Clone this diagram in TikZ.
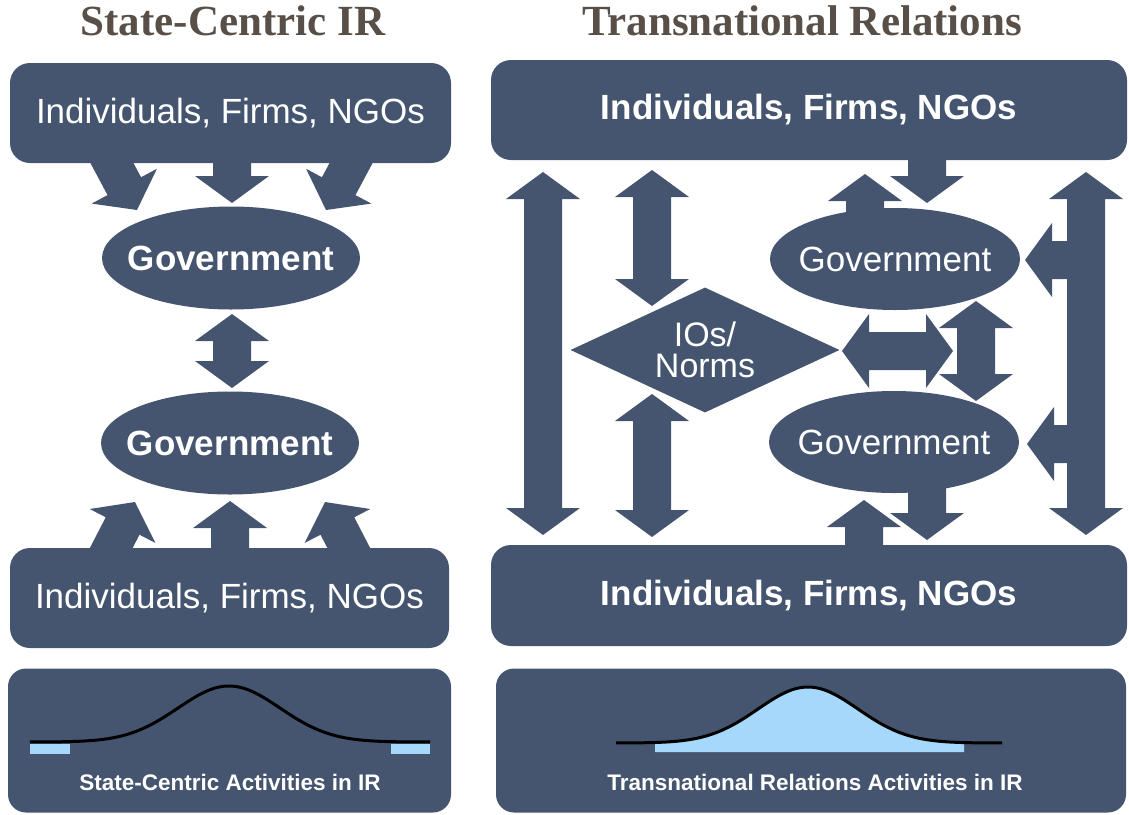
\documentclass[tikz,border=0pt]{standalone}
\usepackage{fontspec}
\setsansfont{Liberation Sans}
\newfontfamily\headfont{Liberation Serif}
\usetikzlibrary{
    calc,
    shapes.geometric,
    backgrounds
}

% block arrow from #1 (tail) to #2 (tip)
\newcommand{\blockarrow}[2]{%
    \coordinate (hd) at ($(#2)!27pt!(#1)$);
    \fill[blk] ($(#1)!19pt!90:(#2)$) -- ($(hd)!19pt!90:(#2)$) -- ($(hd)!37pt!90:(#2)$) -- (#2)
        -- ($(hd)!37pt!-90:(#2)$) -- ($(hd)!19pt!-90:(#2)$) -- ($(#1)!19pt!-90:(#2)$) -- cycle;
}
% block arrow with two heads
\newcommand{\blockdarrow}[2]{%
    \coordinate (hda) at ($(#1)!27pt!(#2)$);
    \coordinate (hdb) at ($(#2)!27pt!(#1)$);
    \fill[blk] (#1) -- ($(hda)!37pt!90:(#2)$) -- ($(hda)!19pt!90:(#2)$) -- ($(hdb)!19pt!90:(#2)$)
        -- ($(hdb)!37pt!90:(#2)$) -- (#2) -- ($(hdb)!37pt!-90:(#2)$) -- ($(hdb)!19pt!-90:(#2)$)
        -- ($(hda)!19pt!-90:(#2)$) -- ($(hda)!37pt!-90:(#2)$) -- cycle;
}

\begin{document}
\begin{tikzpicture}[
    x=1pt, y=-1pt,
    font=\sffamily,
    blk/.style={fill=my-slate},
    box/.style={
        fill=my-slate, rounded corners=20pt, inner sep=0pt,
        text=white, font=\sffamily\fontsize{35}{40}\selectfont
    }, gov/.style={
        ellipse, fill=my-slate, minimum width=258pt, minimum height=103pt,
        inner sep=0pt, inner xsep=-60pt,
        text=white, font=\sffamily\fontsize{35}{40}\selectfont
    }, heading/.style={
        anchor=base, inner sep=0pt, text=my-brown,
        font=\headfont\bfseries\fontsize{43}{46}\selectfont
    }, caption/.style={
        inner sep=0pt, text=white,
        font=\sffamily\bfseries\fontsize{22.5}{26}\selectfont
    }, bell/.style={
        line width=3pt, samples=120
    }]
    \definecolor{my-slate}{RGB}{69, 85, 111}
    \definecolor{my-brown}{RGB}{88, 80, 72}
    \definecolor{my-lightblue}{RGB}{165, 216, 250}

    \useasboundingbox (0,0) rectangle (1129,814);

    %%% State-centric IR
    \node[heading] (titleL) at (233,35) {State-Centric IR};
    \node[box, minimum width=441pt, minimum height=100pt] (actorsTopL) at (230.5,113) {Individuals, Firms, NGOs};
    \node[gov, font=\sffamily\bfseries\fontsize{35}{40}\selectfont] (govL1) at (231,258) {Government};
    \node[gov, font=\sffamily\bfseries\fontsize{35}{40}\selectfont] (govL2) at (230,443) {Government};
    \node[box, minimum width=439pt, minimum height=100pt] (actorsBotL) at (229.5,598) {Individuals, Firms, NGOs};

    \node[box, rounded corners=18pt, minimum width=443pt, minimum height=144pt] (curveBoxL) at (229.5,740.5) {};
    \fill[my-lightblue] (30,744) rectangle (70,754);
    \fill[my-lightblue] (391,744) rectangle (430,754);
    \draw[bell] plot[domain=30:430] (\x,{742-56*exp(-0.5*((\x-229)/51)^2)});
    \node[caption] (captionL) at (230,782) {State-Centric Activities in IR};

    %%% Transnational relations
    \node[heading] (titleR) at (802,35) {Transnational Relations};
    \node[box, minimum width=636pt, minimum height=100pt, font=\sffamily\bfseries\fontsize{35}{40}\selectfont] (actorsTopR) at (809,110) {Individuals, Firms, NGOs};
    \node[gov, minimum width=250pt, minimum height=102pt] (govR1) at (895,259) {Government};
    \node[gov, minimum width=250pt, minimum height=102pt] (govR2) at (894,442) {Government};
    \node[diamond, fill=my-slate, aspect=2.15, inner sep=0pt, minimum width=269pt, minimum height=125pt,
        align=center, text=white, font=\sffamily\fontsize{34}{33}\selectfont] (ios) at (705,350) {IOs/\\[-2pt]Norms};
    \node[box, minimum width=636pt, minimum height=101pt, font=\sffamily\bfseries\fontsize{35}{40}\selectfont] (actorsBotR) at (809,595.5) {Individuals, Firms, NGOs};

    \node[box, rounded corners=18pt, minimum width=630pt, minimum height=144pt] (curveBoxR) at (811,740.5) {};
    \fill[my-lightblue] plot[domain=655:964, samples=120] (\x,{743-56*exp(-0.5*((\x-808)/50)^2)}) -- (964,752) -- (655,752) -- cycle;
    \draw[bell] plot[domain=616:1002] (\x,{743-56*exp(-0.5*((\x-808)/50)^2)});
    \node[caption] (captionR) at (815,782) {Transnational Relations Activities in IR};

    %%% EDGES
    \coordinate (sl-a1) at (105,150);  \coordinate (sl-b1) at (137,210);
    \coordinate (sl-a2) at (232,150);  \coordinate (sl-b2) at (232,203);
    \coordinate (sl-a3) at (358,150);  \coordinate (sl-b3) at (326,210);
    \coordinate (sl-c1) at (232,314);  \coordinate (sl-c2) at (232,388);
    \coordinate (sl-d1) at (104,562);  \coordinate (sl-e1) at (135,502);
    \coordinate (sl-d2) at (230,560);  \coordinate (sl-e2) at (230,501);
    \coordinate (sl-d3) at (356,562);  \coordinate (sl-e3) at (325,502);

    \coordinate (tr-l1) at (543,172);  \coordinate (tr-l2) at (543,535);
    \coordinate (tr-m1) at (652,170);  \coordinate (tr-m2) at (652,306);
    \coordinate (tr-m3) at (652,394);  \coordinate (tr-m4) at (652,537);
    \coordinate (tr-u1) at (865,220);  \coordinate (tr-u2) at (865,174);
    \coordinate (tr-d1) at (927,150);  \coordinate (tr-d2) at (927,203);
    \coordinate (tr-r1) at (1086,172); \coordinate (tr-r2) at (1086,535);
    \coordinate (tr-g1) at (1075,260); \coordinate (tr-g2) at (1025,260);
    \coordinate (tr-g3) at (1075,444); \coordinate (tr-g4) at (1027,444);
    \coordinate (tr-h1) at (842,351);  \coordinate (tr-h2) at (953,351);
    \coordinate (tr-v1) at (976,301);  \coordinate (tr-v2) at (976,401);
    \coordinate (tr-e1) at (927,480);  \coordinate (tr-e2) at (927,540);
    \coordinate (tr-f1) at (864,555);  \coordinate (tr-f2) at (864,500);

    \begin{scope}[on background layer]
    \blockarrow{sl-a1}{sl-b1}
    \blockarrow{sl-a2}{sl-b2}
    \blockarrow{sl-a3}{sl-b3}
    \blockdarrow{sl-c1}{sl-c2}
    \blockarrow{sl-d1}{sl-e1}
    \blockarrow{sl-d2}{sl-e2}
    \blockarrow{sl-d3}{sl-e3}

    \blockdarrow{tr-l1}{tr-l2}
    \blockdarrow{tr-m1}{tr-m2}
    \blockdarrow{tr-m3}{tr-m4}
    \blockarrow{tr-u1}{tr-u2}
    \blockarrow{tr-d1}{tr-d2}
    \blockdarrow{tr-r1}{tr-r2}
    \blockarrow{tr-g1}{tr-g2}
    \blockarrow{tr-g3}{tr-g4}
    \blockdarrow{tr-h1}{tr-h2}
    \blockdarrow{tr-v1}{tr-v2}
    \blockarrow{tr-e1}{tr-e2}
    \blockarrow{tr-f1}{tr-f2}
    \end{scope}
    %%% EDGES

\end{tikzpicture}
\end{document}
